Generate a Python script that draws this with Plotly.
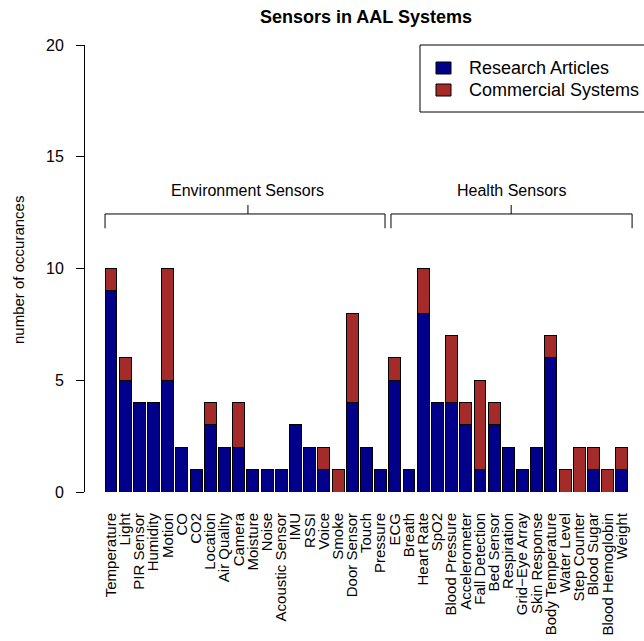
import plotly.graph_objects as go

# Sensor categories (environment group first, then health group)
env_sensors = ["Temperature", "Light", "PIR Sensor", "Humidity", "Motion", "CO", "CO2",
               "Location", "Air Quality", "Camera", "Moisture", "Noise", "Acoustic Sensor",
               "IMU", "RSSI", "Voice", "Smoke", "Door Sensor", "Touch", "Pressure"]
health_sensors = ["ECG", "Breath", "Heart Rate", "SpO2", "Blood Pressure", "Accelerometer",
                  "Fall Detection", "Bed Sensor", "Respiration", "Grid\u2212Eye Array",
                  "Skin Response", "Body Temperature", "Water Level", "Step Counter",
                  "Blood Sugar", "Blood Hemoglobin", "Weight"]

# Occurrence counts per sensor
env_research = [9, 5, 4, 4, 5, 2, 1, 3, 2, 2, 1, 1, 1, 3, 2, 1, 0, 4, 2, 1]
env_commercial = [1, 1, 0, 0, 5, 0, 0, 1, 0, 2, 0, 0, 0, 0, 0, 1, 1, 4, 0, 0]
health_research = [5, 1, 8, 4, 4, 3, 1, 3, 2, 1, 2, 6, 0, 0, 1, 0, 1]
health_commercial = [1, 0, 2, 0, 3, 1, 4, 1, 0, 0, 0, 1, 1, 2, 1, 1, 1]

y_ticks = [0, 5, 10, 15, 20]

sensors = env_sensors + health_sensors
research = env_research + health_research
commercial = env_commercial + health_commercial
pos = list(range(len(sensors)))

FONT = "Liberation Sans, Arial, Helvetica, sans-serif"
W, H = 644, 641
L, R, T, B = 85, 0, 45, 149
PW, PH = W - L - R, H - T - B


def px(x):
    return (x - L) / PW


def py(y):
    return (H - B - y) / PH


fig = go.Figure()
fig.add_trace(go.Bar(x=pos, y=research, name="Research Articles", width=0.84,
                     marker=dict(color="#00008B", line=dict(color="black", width=1))))
fig.add_trace(go.Bar(x=pos, y=commercial, name="Commercial Systems", width=0.84,
                     marker=dict(color="#A52A2A", line=dict(color="black", width=1))))

shapes = []
annotations = []

# Group brackets above the bars
groups = [
    ("Environment Sensors", -0.42, len(env_sensors) - 0.69, 9.65),
    ("Health Sensors", len(env_sensors) - 0.27, len(sensors) - 0.28, 28.2),
]
line = dict(color="black", width=1)
for label, x0, x1, xm in groups:
    shapes.append(dict(type="line", xref="x", yref="y", x0=x0, x1=x1, y0=12.44, y1=12.44, line=line))
    shapes.append(dict(type="line", xref="x", yref="y", x0=x0, x1=x0, y0=12.44, y1=11.8, line=line))
    shapes.append(dict(type="line", xref="x", yref="y", x0=x1, x1=x1, y0=12.44, y1=11.8, line=line))
    shapes.append(dict(type="line", xref="x", yref="y", x0=xm, x1=xm, y0=12.44, y1=12.84, line=line))
    annotations.append(dict(text=label, xref="x", yref="y", x=xm, y=13.5, showarrow=False,
                            font=dict(family=FONT, size=16, color="black"),
                            xanchor="center", yanchor="middle"))

# Legend box
shapes.append(dict(type="rect", xref="paper", yref="paper", x0=px(420), x1=px(662),
                   y0=py(112), y1=py(45), line=dict(color="black", width=1), fillcolor="white"))
for (name, color, yc) in [("Research Articles", "#00008B", 68), ("Commercial Systems", "#A52A2A", 90)]:
    shapes.append(dict(type="rect", xref="paper", yref="paper", x0=px(436), x1=px(451),
                       y0=py(yc + 6), y1=py(yc - 6), fillcolor=color, line=dict(color="black", width=1)))
    annotations.append(dict(text=name, xref="paper", yref="paper", x=px(467), y=py(yc),
                            xanchor="left", yanchor="middle", showarrow=False,
                            font=dict(family=FONT, size=18, color="black")))

# Y axis title
annotations.append(dict(text="number of occurances", xref="paper", yref="paper",
                        x=px(18), y=py(270), textangle=-90, showarrow=False,
                        xanchor="center", yanchor="middle",
                        font=dict(family=FONT, size=15, color="black")))

fig.update_layout(
    width=W, height=H,
    margin=dict(l=L, r=R, t=T, b=B, pad=0),
    barmode="stack",
    showlegend=False,
    plot_bgcolor="white", paper_bgcolor="white",
    title=dict(text="<b>Sensors in AAL Systems</b>", x=px(366), xref="paper", xanchor="center",
               y=1 - 17 / H, yref="container", yanchor="middle",
               font=dict(family=FONT, size=18, color="black")),
    xaxis=dict(range=[-1.832, 37.56], tickmode="array", tickvals=pos, ticktext=sensors,
               tickangle=-90, showgrid=False, zeroline=False, showline=False, ticks="",
               ticklabelstandoff=17,
               tickfont=dict(family=FONT, size=15, color="black")),
    yaxis=dict(range=[0, 20], tickvals=y_ticks, showgrid=False, zeroline=False,
               showline=True, linecolor="black", linewidth=1, ticks="outside", ticklen=8,
               tickcolor="black", ticklabelstandoff=9,
               tickfont=dict(family=FONT, size=16, color="black")),
    shapes=shapes,
    annotations=annotations,
)

fig.write_html("out.html")
